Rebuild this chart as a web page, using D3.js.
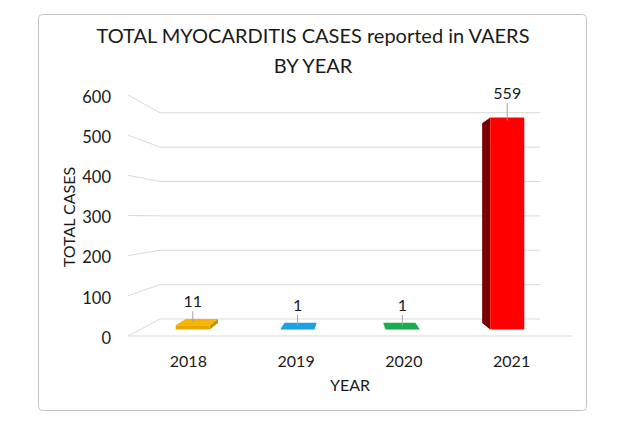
<!DOCTYPE html>
<html>
<head>
<meta charset="utf-8">
<script src="https://cdn.jsdelivr.net/npm/d3@7"></script>
<style>
  body { margin: 0; background: #fff; }
  svg text { font-family: Lato, "Open Sans", sans-serif; fill: #1a1a1a; }
  .grid { stroke: #d9d9d9; stroke-width: 1; fill: none; }
  .leader { stroke: #a6a6a6; stroke-width: 1; }
</style>
</head>
<body>
<div id="chart"></div>
<script>
// 3D column chart - total myocarditis cases in VAERS by year
const years = ["2018", "2019", "2020", "2021"];
const cases = [11, 1, 1, 559];
const yTicks = [0, 100, 200, 300, 400, 500, 600];
const barColors = ["#E6A800", "#1996D0", "#15A048", "#FF0000"];

const width = 619, height = 425;

const svg = d3.select("#chart").append("svg")
  .attr("width", width)
  .attr("height", height);

// panel frame
svg.append("rect")
  .attr("x", 38.5).attr("y", 14.5)
  .attr("width", 548).attr("height", 396)
  .attr("rx", 4)
  .style("fill", "#fff")
  .style("stroke", "#c4c4c4");

// SCALES (front plane of the 3D box)
const xScale = d3.scaleBand()
  .domain(years)
  .range([128, 572])
  .paddingInner(0.675)
  .paddingOuter(0.3375);

const yScale = d3.scaleLinear()
  .domain([0, 600])
  .range([336, 95]);

// simple perspective: depth z in [0,1] pulls points toward the vanishing point
const vp = { x: 350, y: 218 };
const k = 0.168;
function project(xf, v, z) {
  const s = 1 / (1 + k * z);
  return [vp.x + (xf - vp.x) * s, vp.y + (yScale(v) - vp.y) * s];
}
const line = pts => "M" + pts.map(p => p.join(",")).join("L") + "Z";

const plot = svg.append("g");

// WALL GRIDLINES
const [xL, xR] = xScale.range();
yTicks.forEach(t => {
  const a = project(xL, t, 0), b = project(xL, t, 1), c = project(xR, t, 1);
  plot.append("path")
    .attr("class", "grid")
    .attr("d", `M${a}L${b}L${c}`);
});

// floor front edge
const f0 = project(xL, 0, 0), f1 = project(xR, 0, 0);
plot.append("path")
  .attr("class", "grid")
  .attr("d", `M${f0}L${f1}`);

// BARS as boxes
const z0 = 0.35, z1 = 0.735;
years.forEach((yr, i) => {
  const v = cases[i];
  const x0 = xScale(yr), x1 = x0 + xScale.bandwidth();
  const col = d3.color(barColors[i]);
  const g = plot.append("g");

  // side face toward the viewer
  if (x0 > vp.x) {
    g.append("path")
      .attr("d", line([project(x0, 0, z0), project(x0, 0, z1), project(x0, v, z1), project(x0, v, z0)]))
      .style("fill", col.darker(2.1));
  } else if (x1 < vp.x) {
    g.append("path")
      .attr("d", line([project(x1, 0, z0), project(x1, 0, z1), project(x1, v, z1), project(x1, v, z0)]))
      .style("fill", col.darker(0.5));
  }

  // top face when below eye level
  if (yScale(v) > vp.y) {
    g.append("path")
      .attr("d", line([project(x0, v, z0), project(x1, v, z0), project(x1, v, z1), project(x0, v, z1)]))
      .style("fill", col.brighter(0.2));
  }

  // front face
  g.append("path")
    .attr("d", line([project(x0, 0, z0), project(x1, 0, z0), project(x1, v, z0), project(x0, v, z0)]))
    .style("fill", col);

  // value label + leader line
  const cx = x0 + xScale.bandwidth() / 2;
  const front = project(cx, v, z0);
  const mid = project(cx, v, (z0 + z1) / 2);
  plot.append("line")
    .attr("class", "leader")
    .attr("x1", front[0]).attr("x2", front[0])
    .attr("y1", front[1] - 14).attr("y2", mid[1]);
  plot.append("text")
    .attr("x", front[0])
    .attr("y", front[1] - 18)
    .attr("text-anchor", "middle")
    .style("font-size", "16px")
    .text(d3.format(",")(v));
});

// Y TICK LABELS
yTicks.forEach(t => {
  svg.append("text")
    .attr("x", 111)
    .attr("y", yScale(t) + 2)
    .attr("dy", "0.35em")
    .attr("text-anchor", "end")
    .style("font-size", "16.5px")
    .text(t);
});

// X TICK LABELS
years.forEach(yr => {
  const p = project(xScale(yr) + xScale.bandwidth() / 2, 0, 0.18);
  svg.append("text")
    .attr("x", p[0])
    .attr("y", 367)
    .attr("text-anchor", "middle")
    .style("font-size", "16px")
    .text(yr);
});

// AXIS TITLES
svg.append("text")
  .attr("transform", "translate(75,217) rotate(-90)")
  .attr("text-anchor", "middle")
  .style("font-size", "16px")
  .text("TOTAL CASES");

svg.append("text")
  .attr("x", 350).attr("y", 391)
  .attr("text-anchor", "middle")
  .style("font-size", "16px")
  .text("YEAR");

// TITLE
svg.append("text")
  .attr("x", 313).attr("y", 43)
  .attr("text-anchor", "middle")
  .style("font-size", "20px")
  .text("TOTAL MYOCARDITIS CASES reported in VAERS");

svg.append("text")
  .attr("x", 313).attr("y", 73)
  .attr("text-anchor", "middle")
  .style("font-size", "20px")
  .text("BY YEAR");
</script>
</body>
</html>
